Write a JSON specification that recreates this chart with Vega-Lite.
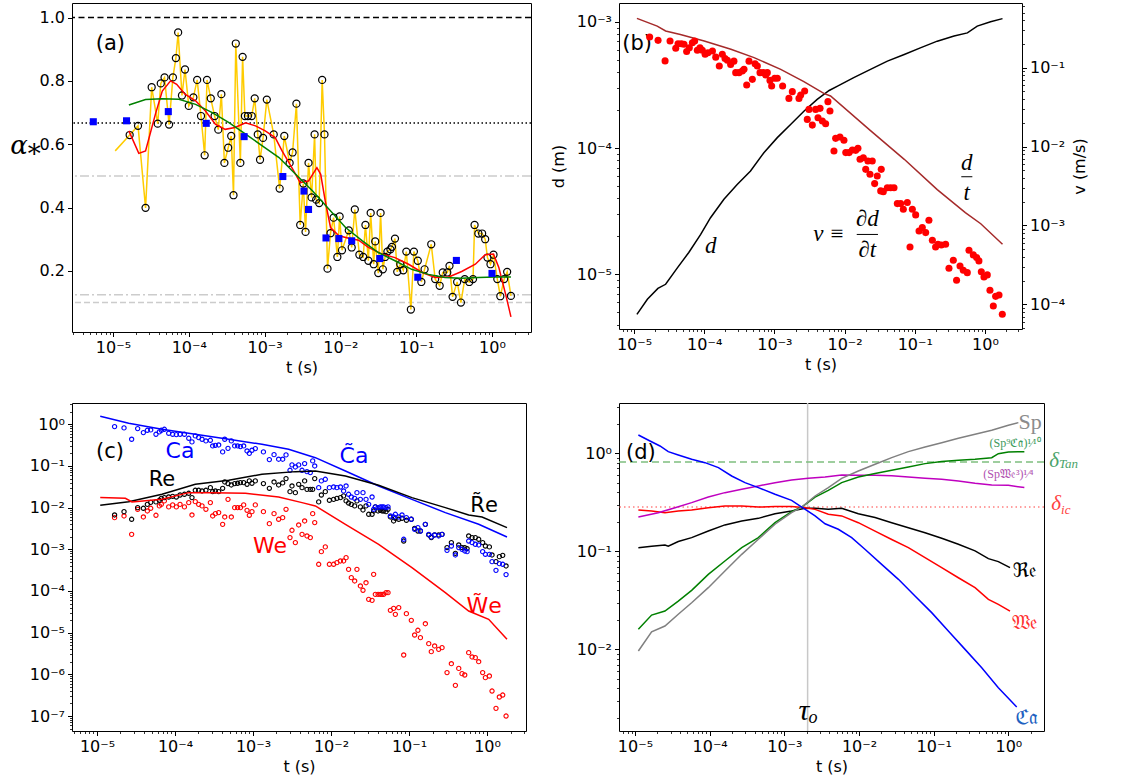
{
"$schema":"https://vega.github.io/schema/vega-lite/v6.json",
"padding":{"left":9,"top":2,"right":5,"bottom":5},
"columns":2,
"align":"each",
"bounds":"flush",
"spacing":{"row":71,"column":88},
"config":{
 "font":"DejaVu Sans",
 "view":{"stroke":"black","strokeWidth":1},
 "axis":{"domain":false,"grid":false,"ticks":true,"tickColor":"black","tickSize":4.5,"tickWidth":1,"labelFont":"DejaVu Sans","labelFontSize":16,"labelColor":"black","labelPadding":3,"labelFlush":false,"labelOverlap":false,"titleFont":"DejaVu Sans","titleFontSize":16,"titleFontWeight":"normal","titleColor":"black"}
},
"datasets":{
"a_pts":[{"t":1.07e-5,"val":0.579,"c":0},{"t":1.66e-5,"val":0.629,"c":1},{"t":2.14e-5,"val":0.658,"c":1},{"t":2.69e-5,"val":0.399,"c":1},{"t":3.24e-5,"val":0.780,"c":1},{"t":3.89e-5,"val":0.665,"c":1},{"t":4.27e-5,"val":0.792,"c":1},{"t":4.79e-5,"val":0.811,"c":1},{"t":5.50e-5,"val":0.662,"c":1},{"t":6.17e-5,"val":0.811,"c":1},{"t":6.76e-5,"val":0.872,"c":1},{"t":7.24e-5,"val":0.953,"c":1},{"t":8.13e-5,"val":0.754,"c":1},{"t":8.91e-5,"val":0.836,"c":1},{"t":1.00e-4,"val":0.721,"c":1},{"t":1.15e-4,"val":0.748,"c":1},{"t":1.29e-4,"val":0.803,"c":1},{"t":1.45e-4,"val":0.689,"c":1},{"t":1.62e-4,"val":0.565,"c":1},{"t":1.74e-4,"val":0.803,"c":1},{"t":1.95e-4,"val":0.745,"c":1},{"t":2.19e-4,"val":0.689,"c":1},{"t":2.45e-4,"val":0.646,"c":1},{"t":2.69e-4,"val":0.758,"c":1},{"t":2.95e-4,"val":0.541,"c":1},{"t":3.31e-4,"val":0.589,"c":1},{"t":3.63e-4,"val":0.626,"c":1},{"t":3.89e-4,"val":0.439,"c":1},{"t":4.17e-4,"val":0.918,"c":1},{"t":4.79e-4,"val":0.541,"c":1},{"t":5.13e-4,"val":0.876,"c":1},{"t":5.50e-4,"val":0.689,"c":1},{"t":6.03e-4,"val":0.689,"c":1},{"t":6.76e-4,"val":0.689,"c":1},{"t":7.41e-4,"val":0.745,"c":1},{"t":8.13e-4,"val":0.631,"c":1},{"t":8.71e-4,"val":0.551,"c":1},{"t":9.55e-4,"val":0.620,"c":1},{"t":1.07e-3,"val":0.741,"c":1},{"t":1.32e-3,"val":0.631,"c":1},{"t":1.58e-3,"val":0.460,"c":1},{"t":1.82e-3,"val":0.626,"c":1},{"t":2.14e-3,"val":0.541,"c":1},{"t":2.34e-3,"val":0.574,"c":1},{"t":2.63e-3,"val":0.728,"c":1},{"t":2.95e-3,"val":0.345,"c":1},{"t":3.24e-3,"val":0.476,"c":1},{"t":3.47e-3,"val":0.323,"c":1},{"t":3.80e-3,"val":0.541,"c":1},{"t":4.17e-3,"val":0.432,"c":1},{"t":4.57e-3,"val":0.631,"c":1},{"t":4.79e-3,"val":0.425,"c":1},{"t":5.25e-3,"val":0.414,"c":1},{"t":5.75e-3,"val":0.803,"c":1},{"t":6.17e-3,"val":0.631,"c":1},{"t":6.76e-3,"val":0.207,"c":1},{"t":7.41e-3,"val":0.319,"c":1},{"t":8.13e-3,"val":0.368,"c":1},{"t":9.12e-3,"val":0.244,"c":1},{"t":9.77e-3,"val":0.372,"c":1},{"t":1.05e-2,"val":0.265,"c":1},{"t":1.29e-2,"val":0.328,"c":1},{"t":1.41e-2,"val":0.274,"c":1},{"t":1.55e-2,"val":0.394,"c":1},{"t":1.78e-2,"val":0.251,"c":1},{"t":2.00e-2,"val":0.244,"c":1},{"t":2.14e-2,"val":0.345,"c":1},{"t":2.34e-2,"val":0.232,"c":1},{"t":2.51e-2,"val":0.383,"c":1},{"t":2.75e-2,"val":0.221,"c":1},{"t":2.88e-2,"val":0.293,"c":1},{"t":3.16e-2,"val":0.193,"c":1},{"t":3.39e-2,"val":0.383,"c":1},{"t":3.63e-2,"val":0.205,"c":1},{"t":3.89e-2,"val":0.244,"c":1},{"t":4.17e-2,"val":0.261,"c":1},{"t":4.57e-2,"val":0.268,"c":1},{"t":4.79e-2,"val":0.276,"c":1},{"t":5.25e-2,"val":0.302,"c":1},{"t":5.62e-2,"val":0.197,"c":1},{"t":6.17e-2,"val":0.221,"c":1},{"t":6.76e-2,"val":0.202,"c":1},{"t":7.41e-2,"val":0.261,"c":1},{"t":8.51e-2,"val":0.078,"c":1},{"t":9.33e-2,"val":0.261,"c":1},{"t":0.105,"val":0.232,"c":1},{"t":0.117,"val":0.165,"c":1},{"t":0.129,"val":0.205,"c":1},{"t":0.158,"val":0.284,"c":1},{"t":0.178,"val":0.174,"c":1},{"t":0.204,"val":0.153,"c":1},{"t":0.224,"val":0.195,"c":1},{"t":0.257,"val":0.195,"c":1},{"t":0.275,"val":0.216,"c":1},{"t":0.302,"val":0.118,"c":1},{"t":0.347,"val":0.165,"c":1},{"t":0.389,"val":0.100,"c":1},{"t":0.437,"val":0.174,"c":1},{"t":0.501,"val":0.165,"c":1},{"t":0.562,"val":0.174,"c":1},{"t":0.589,"val":0.345,"c":1},{"t":0.661,"val":0.318,"c":1},{"t":0.741,"val":0.318,"c":1},{"t":0.813,"val":0.300,"c":1},{"t":0.871,"val":0.242,"c":1},{"t":0.955,"val":0.221,"c":1},{"t":1.047,"val":0.251,"c":1},{"t":1.175,"val":0.174,"c":1},{"t":1.288,"val":0.120,"c":1},{"t":1.445,"val":0.174,"c":1},{"t":1.585,"val":0.197,"c":1},{"t":1.778,"val":0.121,"c":1}],
"a_fit":[{"s":"red","t":1.62e-5,"val":0.642},{"s":"red","t":2.19e-5,"val":0.571},{"s":"red","t":2.69e-5,"val":0.579},{"s":"red","t":3.63e-5,"val":0.695},{"s":"red","t":4.47e-5,"val":0.768},{"s":"red","t":5.75e-5,"val":0.800},{"s":"red","t":6.92e-5,"val":0.789},{"s":"red","t":8.91e-5,"val":0.758},{"s":"red","t":1.23e-4,"val":0.737},{"s":"red","t":1.66e-4,"val":0.705},{"s":"red","t":2.24e-4,"val":0.663},{"s":"red","t":3.02e-4,"val":0.647},{"s":"red","t":4.07e-4,"val":0.653},{"s":"red","t":5.62e-4,"val":0.668},{"s":"red","t":7.59e-4,"val":0.658},{"s":"red","t":1.02e-3,"val":0.642},{"s":"red","t":1.38e-3,"val":0.621},{"s":"red","t":1.70e-3,"val":0.579},{"s":"red","t":2.29e-3,"val":0.526},{"s":"red","t":2.95e-3,"val":0.479},{"s":"red","t":3.80e-3,"val":0.484},{"s":"red","t":4.90e-3,"val":0.526},{"s":"red","t":5.50e-3,"val":0.505},{"s":"red","t":6.31e-3,"val":0.421},{"s":"red","t":7.41e-3,"val":0.337},{"s":"red","t":9.55e-3,"val":0.311},{"s":"red","t":1.29e-2,"val":0.303},{"s":"red","t":1.74e-2,"val":0.297},{"s":"red","t":2.34e-2,"val":0.274},{"s":"red","t":3.55e-2,"val":0.253},{"s":"red","t":5.25e-2,"val":0.242},{"s":"red","t":7.94e-2,"val":0.221},{"s":"red","t":0.120,"val":0.195},{"s":"red","t":0.178,"val":0.179},{"s":"red","t":0.269,"val":0.181},{"s":"red","t":0.398,"val":0.198},{"s":"red","t":0.603,"val":0.221},{"s":"red","t":0.813,"val":0.251},{"s":"red","t":1.047,"val":0.253},{"s":"red","t":1.230,"val":0.211},{"s":"red","t":1.514,"val":0.126},{"s":"red","t":1.778,"val":0.055},
{"s":"green","t":1.62e-5,"val":0.724},{"s":"green","t":2.69e-5,"val":0.741},{"s":"green","t":4.47e-5,"val":0.744},{"s":"green","t":7.41e-5,"val":0.742},{"s":"green","t":1.23e-4,"val":0.726},{"s":"green","t":2.04e-4,"val":0.700},{"s":"green","t":3.39e-4,"val":0.668},{"s":"green","t":5.62e-4,"val":0.632},{"s":"green","t":9.33e-4,"val":0.595},{"s":"green","t":1.55e-3,"val":0.558},{"s":"green","t":2.57e-3,"val":0.505},{"s":"green","t":4.27e-3,"val":0.453},{"s":"green","t":7.08e-3,"val":0.395},{"s":"green","t":1.17e-2,"val":0.337},{"s":"green","t":1.95e-2,"val":0.295},{"s":"green","t":3.16e-2,"val":0.258},{"s":"green","t":5.25e-2,"val":0.232},{"s":"green","t":8.71e-2,"val":0.205},{"s":"green","t":0.145,"val":0.189},{"s":"green","t":0.240,"val":0.179},{"s":"green","t":0.398,"val":0.177},{"s":"green","t":0.661,"val":0.179},{"s":"green","t":1.096,"val":0.181},{"s":"green","t":1.778,"val":0.181}],
"a_sq":[{"t":5.50e-6,"val":0.671},{"t":1.51e-5,"val":0.674},{"t":5.37e-5,"val":0.703},{"t":1.70e-4,"val":0.666},{"t":5.37e-4,"val":0.624},{"t":1.74e-3,"val":0.498},{"t":3.31e-3,"val":0.452},{"t":3.80e-3,"val":0.394},{"t":6.46e-3,"val":0.304},{"t":9.55e-3,"val":0.302},{"t":1.41e-2,"val":0.295},{"t":3.31e-2,"val":0.239},{"t":0.105,"val":0.180},{"t":0.339,"val":0.233},{"t":1.0,"val":0.192}],
"b_d":[{"t":1.10e-5,"d":4.82e-6},{"t":1.55e-5,"d":6.34e-6},{"t":2.19e-5,"d":7.74e-6},{"t":2.82e-5,"d":8.34e-6},{"t":4.17e-5,"d":1.13e-5},{"t":6.03e-5,"d":1.49e-5},{"t":8.91e-5,"d":2.07e-5},{"t":1.23e-4,"d":2.81e-5},{"t":1.91e-4,"d":3.93e-5},{"t":2.95e-4,"d":5.15e-5},{"t":4.57e-4,"d":6.58e-5},{"t":7.08e-4,"d":9.18e-5},{"t":1.10e-3,"d":1.21e-4},{"t":1.70e-3,"d":1.54e-4},{"t":2.63e-3,"d":1.96e-4},{"t":4.07e-3,"d":2.43e-4},{"t":6.03e-3,"d":2.86e-4},{"t":7.94e-3,"d":3.10e-4},{"t":1.35e-2,"d":3.61e-4},{"t":2.34e-2,"d":4.20e-4},{"t":4.07e-2,"d":4.89e-4},{"t":7.08e-2,"d":5.51e-4},{"t":0.120,"d":6.22e-4},{"t":0.209,"d":7.03e-4},{"t":0.363,"d":7.71e-4},{"t":0.562,"d":8.18e-4},{"t":0.776,"d":9.25e-4},{"t":1.202,"d":1.0e-3},{"t":1.778,"d":1.06e-3}],
"b_dt":[{"t":1.10e-5,"v":0.422},{"t":2.14e-5,"v":0.337},{"t":2.82e-5,"v":0.292},{"t":4.57e-5,"v":0.264},{"t":1.0e-4,"v":0.218},{"t":2.40e-4,"v":0.171},{"t":5.13e-4,"v":0.134},{"t":1.23e-3,"v":0.0953},{"t":2.63e-3,"v":0.0665},{"t":5.13e-3,"v":0.0468},{"t":6.31e-3,"v":0.0438},{"t":2.34e-2,"v":0.0159},{"t":7.08e-2,"v":0.00689},{"t":0.209,"v":0.00284},{"t":0.525,"v":0.00145},{"t":0.871,"v":0.00105},{"t":1.778,"v":0.000577}],
"b_v":[{"t":1.67e-5,"v":0.245},{"t":2.20e-5,"v":0.222},{"t":2.77e-5,"v":0.122},{"t":3.26e-5,"v":0.218},{"t":3.93e-5,"v":0.176},{"t":4.24e-5,"v":0.201},{"t":4.72e-5,"v":0.201},{"t":5.15e-5,"v":0.198},{"t":5.62e-5,"v":0.160},{"t":6.14e-5,"v":0.179},{"t":6.78e-5,"v":0.207},{"t":7.31e-5,"v":0.218},{"t":7.98e-5,"v":0.166},{"t":8.71e-5,"v":0.179},{"t":9.40e-5,"v":0.166},{"t":1.03e-4,"v":0.148},{"t":1.13e-4,"v":0.155},{"t":1.31e-4,"v":0.163},{"t":1.46e-4,"v":0.136},{"t":1.64e-4,"v":0.105},{"t":1.81e-4,"v":0.148},{"t":1.98e-4,"v":0.131},{"t":2.14e-4,"v":0.124},{"t":2.38e-4,"v":0.110},{"t":2.65e-4,"v":0.121},{"t":2.81e-4,"v":0.0865},{"t":3.13e-4,"v":0.0865},{"t":3.49e-4,"v":0.0908},{"t":3.69e-4,"v":0.0953},{"t":4.03e-4,"v":0.0603},{"t":4.35e-4,"v":0.121},{"t":4.85e-4,"v":0.0711},{"t":5.30e-4,"v":0.112},{"t":5.71e-4,"v":0.105},{"t":6.24e-4,"v":0.0865},{"t":6.95e-4,"v":0.0865},{"t":7.52e-4,"v":0.0807},{"t":7.93e-4,"v":0.0865},{"t":8.65e-4,"v":0.0690},{"t":9.14e-4,"v":0.0586},{"t":1.01e-3,"v":0.0733},{"t":1.10e-3,"v":0.0733},{"t":1.31e-3,"v":0.0586},{"t":1.61e-3,"v":0.0408},{"t":1.80e-3,"v":0.0497},{"t":2.24e-3,"v":0.0408},{"t":2.37e-3,"v":0.0451},{"t":2.70e-3,"v":0.0506},{"t":2.94e-3,"v":0.0221},{"t":3.11e-3,"v":0.0296},{"t":3.47e-3,"v":0.0187},{"t":3.87e-3,"v":0.0296},{"t":4.18e-3,"v":0.0232},{"t":4.47e-3,"v":0.0305},{"t":4.82e-3,"v":0.0211},{"t":5.37e-3,"v":0.0195},{"t":5.79e-3,"v":0.0371},{"t":6.19e-3,"v":0.0282},{"t":7.06e-3,"v":0.00879},{"t":7.46e-3,"v":0.0127},{"t":8.59e-3,"v":0.0132},{"t":9.79e-3,"v":0.0120},{"t":1.04e-2,"v":0.00838},{"t":1.16e-2,"v":0.00838},{"t":1.29e-2,"v":0.00904},{"t":1.44e-2,"v":0.00895},{"t":1.55e-2,"v":0.00951},{"t":1.66e-2,"v":0.00689},{"t":1.85e-2,"v":0.00723},{"t":2.00e-2,"v":0.00514},{"t":2.15e-2,"v":0.00656},{"t":2.30e-2,"v":0.00445},{"t":2.48e-2,"v":0.00656},{"t":2.68e-2,"v":0.00339},{"t":2.92e-2,"v":0.00424},{"t":3.27e-2,"v":0.00274},{"t":3.33e-2,"v":0.00514},{"t":3.56e-2,"v":0.00268},{"t":4.06e-2,"v":0.00301},{"t":4.53e-2,"v":0.00301},{"t":5.06e-2,"v":0.00301},{"t":5.64e-2,"v":0.00189},{"t":6.30e-2,"v":0.00189},{"t":6.87e-2,"v":0.00160},{"t":7.83e-2,"v":0.00195},{"t":8.55e-2,"v":0.000533},{"t":9.23e-2,"v":0.00160},{"t":0.103,"v":0.00136},{"t":0.115,"v":0.000851},{"t":0.128,"v":0.000938},{"t":0.143,"v":0.000811},{"t":0.159,"v":0.00116},{"t":0.178,"v":0.000649},{"t":0.198,"v":0.000533},{"t":0.214,"v":0.000577},{"t":0.239,"v":0.000565},{"t":0.275,"v":0.000577},{"t":0.307,"v":0.000286},{"t":0.354,"v":0.000361},{"t":0.394,"v":0.000202},{"t":0.441,"v":0.000306},{"t":0.491,"v":0.000270},{"t":0.560,"v":0.000252},{"t":0.592,"v":0.000484},{"t":0.682,"v":0.000423},{"t":0.760,"v":0.000391},{"t":0.820,"v":0.000355},{"t":0.887,"v":0.000259},{"t":0.968,"v":0.000222},{"t":1.079,"v":0.000236},{"t":1.178,"v":0.000151},{"t":1.315,"v":0.0000953},{"t":1.419,"v":0.000126},{"t":1.585,"v":0.000131},{"t":1.766,"v":0.0000748}],
"c_pts":[{"t":1.68e-5,"Ca":0.879,"Re":0.00667,"We":0.00575},{"t":2.22e-5,"Ca":0.817,"Re":0.00802,"We":0.00631},{"t":2.78e-5,"Ca":0.437,"Re":0.00525,"We":0.00229},{"t":3.32e-5,"Ca":0.787,"Re":0.0100,"We":0.00912},{"t":3.93e-5,"Ca":0.631,"Re":0.00964,"We":0.00597},{"t":4.42e-5,"Ca":0.718,"Re":0.0120,"We":0.00832},{"t":4.88e-5,"Ca":0.731,"Re":0.0134,"We":0.00964},{"t":5.70e-5,"Ca":0.575,"Re":0.0137,"We":0.00655},{"t":6.30e-5,"Ca":0.655,"Re":0.0150,"We":0.0110},{"t":6.68e-5,"Ca":0.718,"Re":0.0167,"We":0.0120},{"t":7.30e-5,"Ca":0.759,"Re":0.0174,"We":0.0145},{"t":8.30e-5,"Ca":0.608,"Re":0.0180,"We":0.0104},{"t":9.33e-5,"Ca":0.575,"Re":0.0187,"We":0.0116},{"t":1.04e-4,"Ca":0.565,"Re":0.0180,"We":0.0104},{"t":1.16e-4,"Ca":0.575,"Re":0.0201,"We":0.0120},{"t":1.32e-4,"Ca":0.575,"Re":0.0209,"We":0.0104},{"t":1.50e-4,"Ca":0.461,"Re":0.0221,"We":0.0132},{"t":1.65e-4,"Ca":0.377,"Re":0.0174,"We":0.00667},{"t":1.82e-4,"Ca":0.525,"Re":0.0261,"We":0.0139},{"t":2.01e-4,"Ca":0.479,"Re":0.0261,"We":0.0120},{"t":2.22e-4,"Ca":0.437,"Re":0.0251,"We":0.0110},{"t":2.49e-4,"Ca":0.398,"Re":0.0261,"We":0.00912},{"t":2.84e-4,"Ca":0.413,"Re":0.0302,"We":0.0132},{"t":3.04e-4,"Ca":0.302,"Re":0.0242,"We":0.00631},{"t":3.29e-4,"Ca":0.313,"Re":0.0251,"We":0.00718},{"t":3.63e-4,"Ca":0.319,"Re":0.0242,"We":0.00759},{"t":4.08e-4,"Ca":0.217,"Re":0.0291,"We":0.00398},{"t":4.34e-4,"Ca":0.437,"Re":0.0413,"We":0.00597},{"t":4.78e-4,"Ca":0.265,"Re":0.0377,"We":0.0158},{"t":5.27e-4,"Ca":0.398,"Re":0.0350,"We":0.00597},{"t":5.82e-4,"Ca":0.302,"Re":0.0377,"We":0.0100},{"t":6.35e-4,"Ca":0.302,"Re":0.0384,"We":0.0100},{"t":6.89e-4,"Ca":0.291,"Re":0.0398,"We":0.0100},{"t":7.59e-4,"Ca":0.302,"Re":0.0398,"We":0.0116},{"t":8.38e-4,"Ca":0.229,"Re":0.0363,"We":0.00863},{"t":8.97e-4,"Ca":0.201,"Re":0.0437,"We":0.00655},{"t":9.70e-4,"Ca":0.238,"Re":0.0384,"We":0.00802},{"t":1.07e-3,"Ca":0.261,"Re":0.0437,"We":0.0116},{"t":1.36e-3,"Ca":0.217,"Re":0.0377,"We":0.00802},{"t":1.62e-3,"Ca":0.142,"Re":0.0291,"We":0.00413},{"t":1.86e-3,"Ca":0.187,"Re":0.0413,"We":0.00718},{"t":2.13e-3,"Ca":0.145,"Re":0.0350,"We":0.00525},{"t":2.40e-3,"Ca":0.145,"Re":0.0391,"We":0.00575},{"t":2.65e-3,"Ca":0.184,"Re":0.0497,"We":0.00912},{"t":2.98e-3,"Ca":0.0787,"Re":0.0242,"We":0.00191},{"t":3.16e-3,"Ca":0.106,"Re":0.0331,"We":0.00286},{"t":3.49e-3,"Ca":0.0946,"Re":0.0229,"We":0.00145},{"t":3.85e-3,"Ca":0.106,"Re":0.0363,"We":0.00384},{"t":4.25e-3,"Ca":0.0787,"Re":0.0302,"We":0.00229},{"t":4.59e-3,"Ca":0.114,"Re":0.0437,"We":0.00479},{"t":4.92e-3,"Ca":0.0731,"Re":0.0275,"We":0.00209},{"t":5.43e-3,"Ca":0.0692,"Re":0.0275,"We":0.00191},{"t":5.82e-3,"Ca":0.132,"Re":0.0275,"We":0.00718},{"t":6.18e-3,"Ca":0.1,"Re":0.0497,"We":0.00437},{"t":6.95e-3,"Ca":0.0302,"Re":0.0137,"We":0.000437},{"t":7.52e-3,"Ca":0.0437,"Re":0.0201,"We":0.000879},{"t":8.45e-3,"Ca":0.0479,"Re":0.0242,"We":0.00114},{"t":9.53e-3,"Ca":0.0302,"Re":0.0150,"We":0.000437},{"t":1.08e-2,"Ca":0.0313,"Re":0.0158,"We":0.000437},{"t":1.19e-2,"Ca":0.0302,"Re":0.0167,"We":0.000479},{"t":1.32e-2,"Ca":0.0313,"Re":0.0174,"We":0.000525},{"t":1.45e-2,"Ca":0.0251,"Re":0.0191,"We":0.000525},{"t":1.56e-2,"Ca":0.0331,"Re":0.0145,"We":0.000631},{"t":1.68e-2,"Ca":0.0209,"Re":0.0129,"We":0.000331},{"t":1.82e-2,"Ca":0.0180,"Re":0.0120,"We":0.000209},{"t":2.01e-2,"Ca":0.0167,"Re":0.0110,"We":0.000174},{"t":2.15e-2,"Ca":0.0229,"Re":0.0145,"We":0.000331},{"t":2.38e-2,"Ca":0.0158,"Re":0.0104,"We":0.000132},{"t":2.57e-2,"Ca":0.0229,"Re":0.00879,"We":0.000104},{"t":2.81e-2,"Ca":0.0158,"Re":0.0110,"We":0.000158},{"t":3.04e-2,"Ca":0.0120,"Re":0.00692,"We":6.31e-5},{"t":3.36e-2,"Ca":0.0180,"Re":0.00692,"We":5.97e-5},{"t":3.52e-2,"Ca":0.00912,"Re":0.00832,"We":0.000251},{"t":3.70e-2,"Ca":0.0104,"Re":0.0104,"We":8.32e-5},{"t":4.01e-2,"Ca":0.0100,"Re":0.00832,"We":8.32e-5},{"t":4.29e-2,"Ca":0.0104,"Re":0.00863,"We":8.32e-5},{"t":4.51e-2,"Ca":0.0104,"Re":0.00832,"We":8.32e-5},{"t":4.73e-2,"Ca":0.0104,"Re":0.00832,"We":8.32e-5},{"t":5.07e-2,"Ca":0.0100,"Re":0.00802,"We":9.12e-5},{"t":5.38e-2,"Ca":0.0104,"Re":0.00912,"We":9.12e-5},{"t":5.77e-2,"Ca":0.00631,"Re":0.00597,"We":3.44e-5},{"t":6.35e-2,"Ca":0.00597,"Re":0.00479,"We":3.84e-5},{"t":6.68e-2,"Ca":0.00692,"Re":0.00555,"We":2.75e-5},{"t":7.38e-2,"Ca":0.00597,"Re":0.00525,"We":3.98e-5},{"t":8.13e-2,"Ca":0.00667,"Re":0.00555,"We":null},{"t":8.55e-2,"Ca":0.00174,"Re":0.00158,"We":2.91e-6},{"t":9.25e-2,"Ca":0.00575,"Re":0.00497,"We":2.86e-5},{"t":0.107,"Ca":0.00525,"Re":0.00525,"We":1.98e-5},{"t":0.118,"Ca":0.00302,"Re":0.00319,"We":8.79e-6},{"t":0.130,"Ca":0.00331,"Re":0.00275,"We":1.14e-5},{"t":0.140,"Ca":0.00275,"Re":0.00275,"We":7.59e-6},{"t":0.162,"Ca":0.00398,"Re":0.00398,"We":1.64e-5},{"t":0.179,"Ca":0.00229,"Re":0.00221,"We":5.45e-6},{"t":0.193,"Ca":0.00198,"Re":0.00191,"We":3.50e-6},{"t":0.213,"Ca":0.00221,"Re":0.00221,"We":4.79e-6},{"t":0.240,"Ca":0.00209,"Re":0.00221,"We":3.98e-6},{"t":0.265,"Ca":0.00229,"Re":0.00229,"We":4.37e-6},{"t":0.307,"Ca":0.000946,"Re":0.00110,"We":1.10e-6},{"t":0.349,"Ca":0.00120,"Re":0.00145,"We":1.80e-6},{"t":0.393,"Ca":0.000731,"Re":0.000802,"We":5.45e-7},{"t":0.434,"Ca":0.00110,"Re":0.00127,"We":1.39e-6},{"t":0.478,"Ca":0.00100,"Re":0.00110,"We":1.04e-6},{"t":0.518,"Ca":0.000912,"Re":0.00110,"We":9.64e-7},{"t":0.555,"Ca":0.000879,"Re":0.00104,"We":null},{"t":0.582,"Ca":0.00158,"Re":0.00209,"We":3.31e-6},{"t":0.643,"Ca":0.00145,"Re":0.00191,"We":2.61e-6},{"t":0.708,"Ca":0.00132,"Re":0.00191,"We":2.51e-6},{"t":0.782,"Ca":0.00127,"Re":0.00174,"We":2.01e-6},{"t":0.879,"Ca":0.000879,"Re":0.00145,"We":1.10e-6},{"t":0.953,"Ca":0.000759,"Re":0.00120,"We":8.32e-7},{"t":1.072,"Ca":0.000759,"Re":0.00114,"We":9.12e-7},{"t":1.159,"Ca":0.000506,"Re":0.000731,"We":3.98e-7},{"t":1.303,"Ca":0.000313,"Re":0.000506,"We":1.53e-7},{"t":1.439,"Ca":0.000453,"Re":0.000667,"We":2.86e-7},{"t":1.589,"Ca":0.000437,"Re":0.000718,"We":3.19e-7},{"t":1.754,"Ca":0.000247,"Re":0.000398,"We":1.00e-7}],
"c_lines":[{"s":"Ca","t":1.10e-5,"val":1.556},{"s":"Ca","t":2.55e-5,"val":1.057},{"s":"Ca","t":6.81e-5,"val":0.759},{"s":"Ca","t":1.82e-4,"val":0.575},{"s":"Ca","t":4.88e-4,"val":0.437},{"s":"Ca","t":1.30e-3,"val":0.331},{"s":"Ca","t":2.86e-3,"val":0.251},{"s":"Ca","t":6.30e-3,"val":0.158},{"s":"Ca","t":1.53e-2,"val":0.0759},{"s":"Ca","t":4.08e-2,"val":0.0331},{"s":"Ca","t":0.109,"val":0.0158},{"s":"Ca","t":0.292,"val":0.00759},{"s":"Ca","t":0.782,"val":0.00398},{"s":"Ca","t":1.803,"val":0.00198},
{"s":"Re","t":1.10e-5,"val":0.0114},{"s":"Re","t":2.55e-5,"val":0.0139},{"s":"Re","t":6.81e-5,"val":0.0209},{"s":"Re","t":1.82e-4,"val":0.0363},{"s":"Re","t":4.88e-4,"val":0.0453},{"s":"Re","t":1.30e-3,"val":0.0631},{"s":"Re","t":3.49e-3,"val":0.0731},{"s":"Re","t":6.30e-3,"val":0.0759},{"s":"Re","t":1.53e-2,"val":0.0575},{"s":"Re","t":4.08e-2,"val":0.0344},{"s":"Re","t":0.109,"val":0.0174},{"s":"Re","t":0.292,"val":0.0100},{"s":"Re","t":0.582,"val":0.00667},{"s":"Re","t":0.863,"val":0.00597},{"s":"Re","t":1.803,"val":0.00331},
{"s":"We","t":1.10e-5,"val":0.0174},{"s":"We","t":2.31e-5,"val":0.0167},{"s":"We","t":2.81e-5,"val":0.0137},{"s":"We","t":6.81e-5,"val":0.0158},{"s":"We","t":1.50e-4,"val":0.0229},{"s":"We","t":2.98e-4,"val":0.0229},{"s":"We","t":7.98e-4,"val":0.0221},{"s":"We","t":2.13e-3,"val":0.0180},{"s":"We","t":4.25e-3,"val":0.0132},{"s":"We","t":6.30e-3,"val":0.0110},{"s":"We","t":1.53e-2,"val":0.00398},{"s":"We","t":4.08e-2,"val":0.00132},{"s":"We","t":0.109,"val":0.000363},{"s":"We","t":0.292,"val":0.0000912},{"s":"We","t":0.582,"val":0.0000331},{"s":"We","t":1.05,"val":0.0000209},{"s":"We","t":1.803,"val":0.00000692}],
"d_lines":[{"s":"Ca","t":1.11e-5,"val":1.538},{"s":"Ca","t":1.59e-5,"val":1.336},{"s":"Ca","t":2.16e-5,"val":1.188},{"s":"Ca","t":2.79e-5,"val":1.040},{"s":"Ca","t":3.80e-5,"val":0.962},{"s":"Ca","t":5.74e-5,"val":0.869},{"s":"Ca","t":8.66e-5,"val":0.803},{"s":"Ca","t":1.31e-4,"val":0.714},{"s":"Ca","t":1.97e-4,"val":0.587},{"s":"Ca","t":2.97e-4,"val":0.502},{"s":"Ca","t":4.49e-4,"val":0.447},{"s":"Ca","t":7.50e-4,"val":0.382},{"s":"Ca","t":1.25e-3,"val":0.331},{"s":"Ca","t":1.71e-3,"val":0.283},{"s":"Ca","t":2.58e-3,"val":0.230},{"s":"Ca","t":3.51e-3,"val":0.191},{"s":"Ca","t":5.28e-3,"val":0.168},{"s":"Ca","t":7.98e-3,"val":0.138},{"s":"Ca","t":1.20e-2,"val":0.105},{"s":"Ca","t":2.01e-2,"val":0.0736},{"s":"Ca","t":3.37e-2,"val":0.0518},{"s":"Ca","t":5.62e-2,"val":0.0350},{"s":"Ca","t":9.40e-2,"val":0.0237},{"s":"Ca","t":0.157,"val":0.0154},{"s":"Ca","t":0.263,"val":0.0100},{"s":"Ca","t":0.440,"val":0.00650},{"s":"Ca","t":0.734,"val":0.00406},{"s":"Ca","t":1.294,"val":0.00258},
{"s":"Sp","t":1.11e-5,"val":0.00962},{"s":"Sp","t":1.67e-5,"val":0.0151},{"s":"Sp","t":2.52e-5,"val":0.0173},{"s":"Sp","t":3.80e-5,"val":0.0228},{"s":"Sp","t":5.74e-5,"val":0.0299},{"s":"Sp","t":9.59e-5,"val":0.0426},{"s":"Sp","t":1.60e-4,"val":0.0630},{"s":"Sp","t":2.69e-4,"val":0.0932},{"s":"Sp","t":4.49e-4,"val":0.133},{"s":"Sp","t":7.50e-4,"val":0.189},{"s":"Sp","t":1.25e-3,"val":0.248},{"s":"Sp","t":1.71e-3,"val":0.283},{"s":"Sp","t":2.58e-3,"val":0.367},{"s":"Sp","t":3.88e-3,"val":0.447},{"s":"Sp","t":5.86e-3,"val":0.556},{"s":"Sp","t":9.79e-3,"val":0.660},{"s":"Sp","t":1.64e-2,"val":0.773},{"s":"Sp","t":2.74e-2,"val":0.903},{"s":"Sp","t":4.58e-2,"val":1.040},{"s":"Sp","t":7.66e-2,"val":1.161},{"s":"Sp","t":0.128,"val":1.284},{"s":"Sp","t":0.214,"val":1.422},{"s":"Sp","t":0.358,"val":1.563},{"s":"Sp","t":0.598,"val":1.718},{"s":"Sp","t":1.0,"val":1.931},{"s":"Sp","t":1.361,"val":2.055},
{"s":"Spca","t":1.11e-5,"val":0.0160},{"s":"Spca","t":1.67e-5,"val":0.0224},{"s":"Spca","t":2.52e-5,"val":0.0246},{"s":"Spca","t":3.80e-5,"val":0.0311},{"s":"Spca","t":5.74e-5,"val":0.0400},{"s":"Spca","t":9.59e-5,"val":0.0582},{"s":"Spca","t":1.60e-4,"val":0.0797},{"s":"Spca","t":2.69e-4,"val":0.109},{"s":"Spca","t":4.49e-4,"val":0.138},{"s":"Spca","t":7.50e-4,"val":0.196},{"s":"Spca","t":1.25e-3,"val":0.254},{"s":"Spca","t":1.71e-3,"val":0.283},{"s":"Spca","t":2.58e-3,"val":0.358},{"s":"Spca","t":3.88e-3,"val":0.419},{"s":"Spca","t":5.86e-3,"val":0.502},{"s":"Spca","t":9.79e-3,"val":0.574},{"s":"Spca","t":1.64e-2,"val":0.621},{"s":"Spca","t":2.74e-2,"val":0.671},{"s":"Spca","t":4.58e-2,"val":0.726},{"s":"Spca","t":7.66e-2,"val":0.785},{"s":"Spca","t":0.128,"val":0.823},{"s":"Spca","t":0.214,"val":0.849},{"s":"Spca","t":0.358,"val":0.869},{"s":"Spca","t":0.598,"val":0.903},{"s":"Spca","t":0.734,"val":0.992},{"s":"Spca","t":1.0,"val":1.032},{"s":"Spca","t":1.637,"val":1.040},
{"s":"Spwe","t":1.11e-5,"val":0.224},{"s":"Spwe","t":2.05e-5,"val":0.248},{"s":"Spwe","t":3.44e-5,"val":0.279},{"s":"Spwe","t":5.74e-5,"val":0.314},{"s":"Spwe","t":9.59e-5,"val":0.358},{"s":"Spwe","t":1.60e-4,"val":0.397},{"s":"Spwe","t":2.69e-4,"val":0.430},{"s":"Spwe","t":4.49e-4,"val":0.465},{"s":"Spwe","t":7.50e-4,"val":0.502},{"s":"Spwe","t":1.25e-3,"val":0.535},{"s":"Spwe","t":2.09e-3,"val":0.556},{"s":"Spwe","t":3.51e-3,"val":0.574},{"s":"Spwe","t":5.86e-3,"val":0.601},{"s":"Spwe","t":9.79e-3,"val":0.597},{"s":"Spwe","t":1.64e-2,"val":0.597},{"s":"Spwe","t":2.74e-2,"val":0.592},{"s":"Spwe","t":4.58e-2,"val":0.574},{"s":"Spwe","t":7.66e-2,"val":0.556},{"s":"Spwe","t":0.128,"val":0.543},{"s":"Spwe","t":0.214,"val":0.522},{"s":"Spwe","t":0.358,"val":0.494},{"s":"Spwe","t":0.598,"val":0.475},{"s":"Spwe","t":1.0,"val":0.471},{"s":"Spwe","t":1.637,"val":0.447},
{"s":"We","t":1.11e-5,"val":0.264},{"s":"We","t":1.67e-5,"val":0.258},{"s":"We","t":2.52e-5,"val":0.248},{"s":"We","t":3.80e-5,"val":0.258},{"s":"We","t":5.74e-5,"val":0.264},{"s":"We","t":9.59e-5,"val":0.279},{"s":"We","t":1.60e-4,"val":0.290},{"s":"We","t":2.69e-4,"val":0.290},{"s":"We","t":4.49e-4,"val":0.283},{"s":"We","t":7.50e-4,"val":0.286},{"s":"We","t":1.25e-3,"val":0.286},{"s":"We","t":1.89e-3,"val":0.279},{"s":"We","t":2.58e-3,"val":0.268},{"s":"We","t":3.88e-3,"val":0.239},{"s":"We","t":5.86e-3,"val":0.230},{"s":"We","t":9.79e-3,"val":0.196},{"s":"We","t":1.64e-2,"val":0.161},{"s":"We","t":2.74e-2,"val":0.132},{"s":"We","t":4.58e-2,"val":0.109},{"s":"We","t":7.66e-2,"val":0.0861},{"s":"We","t":0.128,"val":0.0681},{"s":"We","t":0.214,"val":0.0538},{"s":"We","t":0.358,"val":0.0426},{"s":"We","t":0.540,"val":0.0324},{"s":"We","t":0.734,"val":0.0288},{"s":"We","t":1.052,"val":0.0246},
{"s":"Re","t":1.11e-5,"val":0.109},{"s":"Re","t":1.67e-5,"val":0.113},{"s":"Re","t":2.52e-5,"val":0.116},{"s":"Re","t":2.79e-5,"val":0.113},{"s":"Re","t":3.80e-5,"val":0.126},{"s":"Re","t":5.74e-5,"val":0.138},{"s":"Re","t":9.59e-5,"val":0.161},{"s":"Re","t":1.60e-4,"val":0.186},{"s":"Re","t":2.69e-4,"val":0.204},{"s":"Re","t":4.49e-4,"val":0.217},{"s":"Re","t":7.50e-4,"val":0.242},{"s":"Re","t":1.25e-3,"val":0.258},{"s":"Re","t":1.89e-3,"val":0.275},{"s":"Re","t":2.58e-3,"val":0.275},{"s":"Re","t":3.88e-3,"val":0.268},{"s":"Re","t":5.86e-3,"val":0.275},{"s":"Re","t":9.79e-3,"val":0.242},{"s":"Re","t":1.64e-2,"val":0.221},{"s":"Re","t":2.74e-2,"val":0.196},{"s":"Re","t":4.58e-2,"val":0.174},{"s":"Re","t":7.66e-2,"val":0.155},{"s":"Re","t":0.128,"val":0.136},{"s":"Re","t":0.214,"val":0.118},{"s":"Re","t":0.358,"val":0.101},{"s":"Re","t":0.540,"val":0.0842},{"s":"Re","t":0.734,"val":0.0785},{"s":"Re","t":1.052,"val":0.0681}]
},
"concat":[
{
 "width":459,"height":329,
 "encoding":{"y":{"field":"val","type":"quantitative","scale":{"domain":[0.007,1.046],"nice":false,"zero":false},"axis":{"values":[0.2,0.4,0.6,0.8,1.0],"format":".1f","title":"α⁎","titleAngle":0,"titleFont":"DejaVu Serif","titleFontStyle":"italic","titleFontSize":26,"titleAlign":"center","titleBaseline":"middle","titleX":-47,"titleY":142}}},
 "layer":[
  {"data":{"values":[{"val":1.0}]},"mark":{"type":"rule","color":"black","strokeDash":[6,3.5],"strokeWidth":1.5},"encoding":{}},
  {"data":{"values":[{"val":0.6667}]},"mark":{"type":"rule","color":"black","strokeDash":[1.5,2.5],"strokeWidth":1.5},"encoding":{}},
  {"data":{"values":[{"val":0.5}]},"mark":{"type":"rule","color":"#cccccc","strokeDash":[9,3,2,3],"strokeWidth":1.5},"encoding":{}},
  {"data":{"values":[{"val":0.125}]},"mark":{"type":"rule","color":"#cccccc","strokeDash":[9,3,2,3],"strokeWidth":1.5},"encoding":{}},
  {"data":{"values":[{"val":0.1}]},"mark":{"type":"rule","color":"#cccccc","strokeDash":[6,3],"strokeWidth":1.5},"encoding":{}},
  {"data":{"name":"a_pts"},"mark":{"type":"line","color":"#ffcc00","strokeWidth":1.5},
   "encoding":{"x":{"field":"t","type":"quantitative","scale":{"type":"log","domain":[2.88e-6,3.27],"nice":false},"axis":{"orient":"bottom","values":[1e-5,1e-4,0.001,0.01,0.1,1],"labelExpr":"datum.value > 0.5 ? '10⁰' : datum.value > 0.05 ? '10⁻¹' : datum.value > 0.005 ? '10⁻²' : datum.value > 0.0005 ? '10⁻³' : datum.value > 0.00005 ? '10⁻⁴' : datum.value > 0.000005 ? '10⁻⁵' : datum.value > 0.0000005 ? '10⁻⁶' : '10⁻⁷'","title":"t (s)","titlePadding":4}}}},
  {"data":{"name":"a_pts"},"transform":[{"filter":"datum.c == 1"}],"mark":{"type":"point","shape":"circle","size":50,"filled":false,"color":"black","strokeWidth":1.2,"opacity":1},
   "encoding":{"x":{"field":"t","type":"quantitative","scale":{"type":"log","domain":[2.88e-6,3.27],"nice":false},"axis":{"orient":"bottom","values":[3e-6,4e-6,5e-6,6e-6,7e-6,8e-6,9e-6,2e-5,3e-5,4e-5,5e-5,6e-5,7e-5,8e-5,9e-5,2e-4,3e-4,4e-4,5e-4,6e-4,7e-4,8e-4,9e-4,0.002,0.003,0.004,0.005,0.006,0.007,0.008,0.009,0.02,0.03,0.04,0.05,0.06,0.07,0.08,0.09,0.2,0.3,0.4,0.5,0.6,0.7,0.8,0.9,2,3],"labels":false,"title":null,"tickSize":2.5,"tickWidth":0.8}}}},
  {"data":{"name":"a_fit"},"transform":[{"filter":"datum.s == 'red'"}],"mark":{"type":"line","color":"#ff0000","strokeWidth":1.5},
   "encoding":{"x":{"field":"t","type":"quantitative","scale":{"type":"log","domain":[2.88e-6,3.27],"nice":false},"axis":null}}},
  {"data":{"name":"a_fit"},"transform":[{"filter":"datum.s == 'green'"}],"mark":{"type":"line","color":"#008000","strokeWidth":1.5},
   "encoding":{"x":{"field":"t","type":"quantitative","scale":{"type":"log","domain":[2.88e-6,3.27],"nice":false},"axis":null}}},
  {"data":{"name":"a_sq"},"mark":{"type":"point","shape":"square","size":50,"filled":true,"color":"#0000ff","opacity":1},
   "encoding":{"x":{"field":"t","type":"quantitative","scale":{"type":"log","domain":[2.88e-6,3.27],"nice":false},"axis":null}}},
  {"data":{"values":[{"t":9.23e-6,"val":0.916,"label":"(a)"}]},"mark":{"type":"text","fontSize":21,"font":"DejaVu Sans","align":"center","baseline":"middle","color":"black"},
   "encoding":{"x":{"field":"t","type":"quantitative","scale":{"type":"log","domain":[2.88e-6,3.27],"nice":false},"axis":null},"text":{"field":"label"}}}
 ],
 "resolve":{"axis":{"x":"independent"}}
},
{
 "width":403,"height":326,
 "layer":[
  {
   "encoding":{"y":{"field":"d","type":"quantitative","scale":{"type":"log","domain":[3.69e-6,1.41e-3],"nice":false},"axis":null}},
   "layer":[
    {"data":{"name":"b_d"},"mark":{"type":"line","color":"black","strokeWidth":1.5},
     "encoding":{"x":{"field":"t","type":"quantitative","scale":{"type":"log","domain":[6.11e-6,3.37],"nice":false},"axis":{"orient":"bottom","values":[1e-5,1e-4,0.001,0.01,0.1,1],"labelExpr":"datum.value > 0.5 ? '10⁰' : datum.value > 0.05 ? '10⁻¹' : datum.value > 0.005 ? '10⁻²' : datum.value > 0.0005 ? '10⁻³' : datum.value > 0.00005 ? '10⁻⁴' : '10⁻⁵'","title":"t (s)","titlePadding":4}},
     "y":{"field":"d","type":"quantitative","scale":{"type":"log","domain":[3.69e-6,1.41e-3],"nice":false},"axis":{"orient":"left","values":[1e-5,1e-4,0.001],"labelExpr":"datum.value > 0.0005 ? '10⁻³' : datum.value > 0.00005 ? '10⁻⁴' : '10⁻⁵'","title":"d (m)","titleAngle":270,"titleAlign":"center","titleBaseline":"middle","titleX":-61,"titleY":163}}}},
    {"data":{"values":[{"t":1.49e-2,"t2":2.99e-2,"d":2.07e-5},{"t":0.46,"t2":0.661,"d":5.93e-5}]},"mark":{"type":"rule","color":"black","strokeWidth":1},
     "encoding":{"x":{"field":"t","type":"quantitative","scale":{"type":"log","domain":[6.11e-6,3.37],"nice":false},"axis":{"orient":"bottom","values":[1e-5,1e-4,0.001,0.01,0.1,1],"labelExpr":"datum.value > 0.5 ? '10⁰' : datum.value > 0.05 ? '10⁻¹' : datum.value > 0.005 ? '10⁻²' : datum.value > 0.0005 ? '10⁻³' : datum.value > 0.00005 ? '10⁻⁴' : '10⁻⁵'","title":"t (s)","titlePadding":4}},"x2":{"field":"t2"},
     "y":{"field":"d","type":"quantitative","scale":{"type":"log","domain":[3.69e-6,1.41e-3],"nice":false},"axis":{"orient":"left","values":[4e-6,5e-6,6e-6,7e-6,8e-6,9e-6,2e-5,3e-5,4e-5,5e-5,6e-5,7e-5,8e-5,9e-5,2e-4,3e-4,4e-4,5e-4,6e-4,7e-4,8e-4,9e-4],"labels":false,"title":null,"tickSize":2.5,"tickWidth":0.8}}}},
    {"data":{"values":[{"t":1.11e-5,"d":6.62e-4,"label":"(b)"}]},"mark":{"type":"text","fontSize":21,"font":"DejaVu Sans","align":"center","baseline":"middle","color":"black"},
     "encoding":{"x":{"field":"t","type":"quantitative","scale":{"type":"log","domain":[6.11e-6,3.37],"nice":false},"axis":{"orient":"bottom","values":[1e-5,1e-4,0.001,0.01,0.1,1],"labelExpr":"datum.value > 0.5 ? '10⁰' : datum.value > 0.05 ? '10⁻¹' : datum.value > 0.005 ? '10⁻²' : datum.value > 0.0005 ? '10⁻³' : datum.value > 0.00005 ? '10⁻⁴' : '10⁻⁵'","title":"t (s)","titlePadding":4}},"text":{"field":"label"}}},
    {"data":{"values":[{"t":1.24e-4,"d":1.67e-5,"label":"d"},{"t":6.0e-3,"d":2.07e-5,"label":"v ≡"},{"t":2.11e-2,"d":2.72e-5,"label":"∂d"},{"t":2.11e-2,"d":1.56e-5,"label":"∂t"},{"t":0.548,"d":7.6e-5,"label":"d"},{"t":0.548,"d":4.4e-5,"label":"t"}]},"mark":{"type":"text","fontSize":23,"font":"Liberation Serif","fontStyle":"italic","align":"center","baseline":"middle","color":"black"},
     "encoding":{"x":{"field":"t","type":"quantitative","scale":{"type":"log","domain":[6.11e-6,3.37],"nice":false},"axis":{"orient":"bottom","values":[1e-5,1e-4,0.001,0.01,0.1,1],"labelExpr":"datum.value > 0.5 ? '10⁰' : datum.value > 0.05 ? '10⁻¹' : datum.value > 0.005 ? '10⁻²' : datum.value > 0.0005 ? '10⁻³' : datum.value > 0.00005 ? '10⁻⁴' : '10⁻⁵'","title":"t (s)","titlePadding":4}},"text":{"field":"label"}}}
   ],
   "resolve":{"axis":{"y":"independent"}}
  },
  {
   "encoding":{"y":{"field":"v","type":"quantitative","scale":{"type":"log","domain":[4.86e-5,0.661],"nice":false},"axis":null}},
   "layer":[
    {"data":{"name":"b_dt"},"mark":{"type":"line","color":"#a52a2a","strokeWidth":1.5},
     "encoding":{"x":{"field":"t","type":"quantitative","scale":{"type":"log","domain":[6.11e-6,3.37],"nice":false},"axis":{"orient":"bottom","values":[7e-6,8e-6,9e-6,2e-5,3e-5,4e-5,5e-5,6e-5,7e-5,8e-5,9e-5,2e-4,3e-4,4e-4,5e-4,6e-4,7e-4,8e-4,9e-4,0.002,0.003,0.004,0.005,0.006,0.007,0.008,0.009,0.02,0.03,0.04,0.05,0.06,0.07,0.08,0.09,0.2,0.3,0.4,0.5,0.6,0.7,0.8,0.9,2,3],"labels":false,"title":null,"tickSize":2.5,"tickWidth":0.8}},
     "y":{"field":"v","type":"quantitative","scale":{"type":"log","domain":[4.86e-5,0.661],"nice":false},"axis":{"orient":"right","values":[1e-4,0.001,0.01,0.1],"labelExpr":"datum.value > 0.05 ? '10⁻¹' : datum.value > 0.005 ? '10⁻²' : datum.value > 0.0005 ? '10⁻³' : '10⁻⁴'","title":"v (m/s)","titleAngle":270,"titleAlign":"center","titleBaseline":"middle","titleX":57,"titleY":163}}}},
    {"data":{"name":"b_v"},"mark":{"type":"point","shape":"circle","size":50,"filled":true,"color":"#ff0000","opacity":1},
     "encoding":{"x":{"field":"t","type":"quantitative","scale":{"type":"log","domain":[6.11e-6,3.37],"nice":false},"axis":{"orient":"bottom","values":[7e-6,8e-6,9e-6,2e-5,3e-5,4e-5,5e-5,6e-5,7e-5,8e-5,9e-5,2e-4,3e-4,4e-4,5e-4,6e-4,7e-4,8e-4,9e-4,0.002,0.003,0.004,0.005,0.006,0.007,0.008,0.009,0.02,0.03,0.04,0.05,0.06,0.07,0.08,0.09,0.2,0.3,0.4,0.5,0.6,0.7,0.8,0.9,2,3],"labels":false,"title":null,"tickSize":2.5,"tickWidth":0.8}},
     "y":{"field":"v","type":"quantitative","scale":{"type":"log","domain":[4.86e-5,0.661],"nice":false},"axis":{"orient":"right","values":[5e-5,6e-5,7e-5,8e-5,9e-5,2e-4,3e-4,4e-4,5e-4,6e-4,7e-4,8e-4,9e-4,0.002,0.003,0.004,0.005,0.006,0.007,0.008,0.009,0.02,0.03,0.04,0.05,0.06,0.07,0.08,0.09,0.2,0.3,0.4,0.5,0.6],"labels":false,"title":null,"tickSize":2.5,"tickWidth":0.8}}}}
   ],
   "resolve":{"axis":{"y":"independent"}}
  }
 ],
 "resolve":{"scale":{"y":"independent"},"axis":{"x":"independent","y":"independent"}}
},
{
 "width":454,"height":328,
 "encoding":{"y":{"field":"val","type":"quantitative","scale":{"type":"log","domain":[4.37e-8,3.24],"nice":false},"axis":null}},
 "layer":[
  {"data":{"name":"c_pts"},"transform":[{"fold":["We"],"as":["s","val"]}],"mark":{"type":"point","shape":"circle","size":18,"filled":false,"color":"#ff0000","strokeWidth":1.1,"opacity":1},
   "encoding":{"x":{"field":"t","type":"quantitative","scale":{"type":"log","domain":[4.78e-6,3.16],"nice":false},"axis":{"orient":"bottom","values":[1e-5,1e-4,0.001,0.01,0.1,1],"labelExpr":"datum.value > 0.5 ? '10⁰' : datum.value > 0.05 ? '10⁻¹' : datum.value > 0.005 ? '10⁻²' : datum.value > 0.0005 ? '10⁻³' : datum.value > 0.00005 ? '10⁻⁴' : '10⁻⁵'","title":"t (s)","titlePadding":4}},
   "y":{"field":"val","type":"quantitative","scale":{"type":"log","domain":[4.37e-8,3.24],"nice":false},"axis":{"orient":"left","values":[1,0.1,0.01,0.001,0.0001,0.00001,0.000001,0.0000001],"labelExpr":"datum.value > 0.5 ? '10⁰' : datum.value > 0.05 ? '10⁻¹' : datum.value > 0.005 ? '10⁻²' : datum.value > 0.0005 ? '10⁻³' : datum.value > 0.00005 ? '10⁻⁴' : datum.value > 0.000005 ? '10⁻⁵' : datum.value > 0.0000005 ? '10⁻⁶' : '10⁻⁷'","title":null}}}},
  {"data":{"name":"c_pts"},"transform":[{"fold":["Re"],"as":["s","val"]}],"mark":{"type":"point","shape":"circle","size":18,"filled":false,"color":"black","strokeWidth":1.1,"opacity":1},
   "encoding":{"x":{"field":"t","type":"quantitative","scale":{"type":"log","domain":[4.78e-6,3.16],"nice":false},"axis":{"orient":"bottom","values":[5e-6,6e-6,7e-6,8e-6,9e-6,2e-5,3e-5,4e-5,5e-5,6e-5,7e-5,8e-5,9e-5,2e-4,3e-4,4e-4,5e-4,6e-4,7e-4,8e-4,9e-4,0.002,0.003,0.004,0.005,0.006,0.007,0.008,0.009,0.02,0.03,0.04,0.05,0.06,0.07,0.08,0.09,0.2,0.3,0.4,0.5,0.6,0.7,0.8,0.9,2,3],"labels":false,"title":null,"tickSize":2.5,"tickWidth":0.8}},
   "y":{"field":"val","type":"quantitative","scale":{"type":"log","domain":[4.37e-8,3.24],"nice":false},"axis":{"orient":"left","values":[5e-8,6e-8,7e-8,8e-8,9e-8,2e-7,3e-7,4e-7,5e-7,6e-7,7e-7,8e-7,9e-7,2e-6,3e-6,4e-6,5e-6,6e-6,7e-6,8e-6,9e-6,2e-5,3e-5,4e-5,5e-5,6e-5,7e-5,8e-5,9e-5,2e-4,3e-4,4e-4,5e-4,6e-4,7e-4,8e-4,9e-4,0.002,0.003,0.004,0.005,0.006,0.007,0.008,0.009,0.02,0.03,0.04,0.05,0.06,0.07,0.08,0.09,0.2,0.3,0.4,0.5,0.6,0.7,0.8,0.9,2,3],"labels":false,"title":null,"tickSize":2.5,"tickWidth":0.8}}}},
  {"data":{"name":"c_pts"},"transform":[{"fold":["Ca"],"as":["s","val"]}],"mark":{"type":"point","shape":"circle","size":18,"filled":false,"color":"#0000ff","strokeWidth":1.1,"opacity":1},
   "encoding":{"x":{"field":"t","type":"quantitative","scale":{"type":"log","domain":[4.78e-6,3.16],"nice":false},"axis":null}}},
  {"data":{"name":"c_lines"},"transform":[{"filter":"datum.s == 'Ca'"}],"mark":{"type":"line","color":"#0000ff","strokeWidth":1.5},
   "encoding":{"x":{"field":"t","type":"quantitative","scale":{"type":"log","domain":[4.78e-6,3.16],"nice":false},"axis":null}}},
  {"data":{"name":"c_lines"},"transform":[{"filter":"datum.s == 'Re'"}],"mark":{"type":"line","color":"black","strokeWidth":1.5},
   "encoding":{"x":{"field":"t","type":"quantitative","scale":{"type":"log","domain":[4.78e-6,3.16],"nice":false},"axis":null}}},
  {"data":{"name":"c_lines"},"transform":[{"filter":"datum.s == 'We'"}],"mark":{"type":"line","color":"#ff0000","strokeWidth":1.5},
   "encoding":{"x":{"field":"t","type":"quantitative","scale":{"type":"log","domain":[4.78e-6,3.16],"nice":false},"axis":null}}},
  {"data":{"values":[{"t":1.47e-5,"val":0.216,"label":"(c)"},{"t":6.81e-5,"val":0.0461,"label":"Re"},{"t":0.916,"val":0.0109,"label":"R̃e"}]},"mark":{"type":"text","fontSize":21,"font":"DejaVu Sans","align":"center","baseline":"middle","color":"black"},
   "encoding":{"x":{"field":"t","type":"quantitative","scale":{"type":"log","domain":[4.78e-6,3.16],"nice":false},"axis":null},"text":{"field":"label"}}},
  {"data":{"values":[{"t":1.16e-4,"val":0.229,"label":"Ca"},{"t":1.97e-2,"val":0.173,"label":"C̃a"}]},"mark":{"type":"text","fontSize":22,"font":"DejaVu Sans","align":"center","baseline":"middle","color":"#0000ff"},
   "encoding":{"x":{"field":"t","type":"quantitative","scale":{"type":"log","domain":[4.78e-6,3.16],"nice":false},"axis":null},"text":{"field":"label"}}},
  {"data":{"values":[{"t":1.65e-3,"val":0.0012,"label":"We"},{"t":0.916,"val":4.37e-5,"label":"W̃e"}]},"mark":{"type":"text","fontSize":22,"font":"DejaVu Sans","align":"center","baseline":"middle","color":"#ff0000"},
   "encoding":{"x":{"field":"t","type":"quantitative","scale":{"type":"log","domain":[4.78e-6,3.16],"nice":false},"axis":null},"text":{"field":"label"}}}
 ],
 "resolve":{"axis":{"x":"independent","y":"independent"}}
},
{
 "width":425,"height":328,
 "layer":[
  {"data":{"values":[{"t":0.00205}]},"mark":{"type":"rule","color":"#c8c8c8","strokeWidth":1.5},
   "encoding":{"x":{"field":"t","type":"quantitative","scale":{"type":"log","domain":[6.11e-6,3.0],"nice":false},"axis":null}}},
  {"data":{"values":[{"val":0.816}]},"mark":{"type":"rule","color":"#7fbf7f","strokeDash":[7,4],"strokeWidth":1.5},
   "encoding":{"y":{"field":"val","type":"quantitative","scale":{"type":"log","domain":[1.47e-3,3.26],"nice":false},"axis":null}}},
  {"data":{"values":[{"val":0.283}]},"mark":{"type":"rule","color":"#ff8080","strokeDash":[1.5,3],"strokeWidth":1.5},
   "encoding":{"y":{"field":"val","type":"quantitative","scale":{"type":"log","domain":[1.47e-3,3.26],"nice":false},"axis":null}}},
  {"data":{"name":"d_lines"},"transform":[{"filter":"datum.s == 'Re'"}],"mark":{"type":"line","color":"black","strokeWidth":1.5},
   "encoding":{"x":{"field":"t","type":"quantitative","scale":{"type":"log","domain":[6.11e-6,3.0],"nice":false},"axis":{"orient":"bottom","values":[1e-5,1e-4,0.001,0.01,0.1,1],"labelExpr":"datum.value > 0.5 ? '10⁰' : datum.value > 0.05 ? '10⁻¹' : datum.value > 0.005 ? '10⁻²' : datum.value > 0.0005 ? '10⁻³' : datum.value > 0.00005 ? '10⁻⁴' : '10⁻⁵'","title":"t (s)","titlePadding":4}},
   "y":{"field":"val","type":"quantitative","scale":{"type":"log","domain":[1.47e-3,3.26],"nice":false},"axis":{"orient":"left","values":[0.01,0.1,1],"labelExpr":"datum.value > 0.5 ? '10⁰' : datum.value > 0.05 ? '10⁻¹' : '10⁻²'","title":null}}}},
  {"data":{"name":"d_lines"},"transform":[{"filter":"datum.s == 'We'"}],"mark":{"type":"line","color":"#ff0000","strokeWidth":1.5},
   "encoding":{"x":{"field":"t","type":"quantitative","scale":{"type":"log","domain":[6.11e-6,3.0],"nice":false},"axis":{"orient":"bottom","values":[7e-6,8e-6,9e-6,2e-5,3e-5,4e-5,5e-5,6e-5,7e-5,8e-5,9e-5,2e-4,3e-4,4e-4,5e-4,6e-4,7e-4,8e-4,9e-4,0.002,0.003,0.004,0.005,0.006,0.007,0.008,0.009,0.02,0.03,0.04,0.05,0.06,0.07,0.08,0.09,0.2,0.3,0.4,0.5,0.6,0.7,0.8,0.9,2],"labels":false,"title":null,"tickSize":2.5,"tickWidth":0.8}},
   "y":{"field":"val","type":"quantitative","scale":{"type":"log","domain":[1.47e-3,3.26],"nice":false},"axis":{"orient":"left","values":[0.002,0.003,0.004,0.005,0.006,0.007,0.008,0.009,0.02,0.03,0.04,0.05,0.06,0.07,0.08,0.09,0.2,0.3,0.4,0.5,0.6,0.7,0.8,0.9,2,3],"labels":false,"title":null,"tickSize":2.5,"tickWidth":0.8}}}},
  {"data":{"name":"d_lines"},"transform":[{"filter":"datum.s == 'Spwe'"}],"mark":{"type":"line","color":"#bf00bf","strokeWidth":1.5},
   "encoding":{"x":{"field":"t","type":"quantitative","scale":{"type":"log","domain":[6.11e-6,3.0],"nice":false},"axis":null},
   "y":{"field":"val","type":"quantitative","scale":{"type":"log","domain":[1.47e-3,3.26],"nice":false},"axis":null}}},
  {"data":{"name":"d_lines"},"transform":[{"filter":"datum.s == 'Spca'"}],"mark":{"type":"line","color":"#008000","strokeWidth":1.5},
   "encoding":{"x":{"field":"t","type":"quantitative","scale":{"type":"log","domain":[6.11e-6,3.0],"nice":false},"axis":null},
   "y":{"field":"val","type":"quantitative","scale":{"type":"log","domain":[1.47e-3,3.26],"nice":false},"axis":null}}},
  {"data":{"name":"d_lines"},"transform":[{"filter":"datum.s == 'Sp'"}],"mark":{"type":"line","color":"#808080","strokeWidth":1.5},
   "encoding":{"x":{"field":"t","type":"quantitative","scale":{"type":"log","domain":[6.11e-6,3.0],"nice":false},"axis":null},
   "y":{"field":"val","type":"quantitative","scale":{"type":"log","domain":[1.47e-3,3.26],"nice":false},"axis":null}}},
  {"data":{"name":"d_lines"},"transform":[{"filter":"datum.s == 'Ca'"}],"mark":{"type":"line","color":"#0000ff","strokeWidth":1.5},
   "encoding":{"x":{"field":"t","type":"quantitative","scale":{"type":"log","domain":[6.11e-6,3.0],"nice":false},"axis":null},
   "y":{"field":"val","type":"quantitative","scale":{"type":"log","domain":[1.47e-3,3.26],"nice":false},"axis":null}}},
  {"data":{"values":[{"t":1.2e-5,"val":1.0,"label":"(d)"}]},"mark":{"type":"text","fontSize":21,"font":"DejaVu Sans","align":"center","baseline":"middle","color":"black"},
   "encoding":{"x":{"field":"t","type":"quantitative","scale":{"type":"log","domain":[6.11e-6,3.0],"nice":false},"axis":null},
   "y":{"field":"val","type":"quantitative","scale":{"type":"log","domain":[1.47e-3,3.26],"nice":false},"axis":null},"text":{"field":"label"}}},
  {"data":{"values":[{"t":1.67,"val":0.063,"label":"ℜ𝔢"}]},"mark":{"type":"text","fontSize":20,"align":"center","baseline":"middle","color":"black"},
   "encoding":{"x":{"field":"t","type":"quantitative","scale":{"type":"log","domain":[6.11e-6,3.0],"nice":false},"axis":null},
   "y":{"field":"val","type":"quantitative","scale":{"type":"log","domain":[1.47e-3,3.26],"nice":false},"axis":null},"text":{"field":"label"}}},
  {"data":{"values":[{"t":1.67,"val":0.0184,"label":"𝔚𝔢"}]},"mark":{"type":"text","fontSize":20,"align":"center","baseline":"middle","color":"#ff3030"},
   "encoding":{"x":{"field":"t","type":"quantitative","scale":{"type":"log","domain":[6.11e-6,3.0],"nice":false},"axis":null},
   "y":{"field":"val","type":"quantitative","scale":{"type":"log","domain":[1.47e-3,3.26],"nice":false},"axis":null},"text":{"field":"label"}}},
  {"data":{"values":[{"t":4.35,"val":0.302,"label":"δ"}]},"mark":{"type":"text","fontSize":21,"font":"Liberation Serif","fontStyle":"italic","align":"center","baseline":"middle","color":"#ff4040"},
   "encoding":{"x":{"field":"t","type":"quantitative","scale":{"type":"log","domain":[6.11e-6,3.0],"nice":false},"axis":null},
   "y":{"field":"val","type":"quantitative","scale":{"type":"log","domain":[1.47e-3,3.26],"nice":false},"axis":null},"text":{"field":"label"}}},
  {"data":{"values":[{"t":5.86,"val":0.265,"label":"ic"}]},"mark":{"type":"text","fontSize":13,"font":"Liberation Serif","fontStyle":"italic","align":"center","baseline":"middle","color":"#ff4040"},
   "encoding":{"x":{"field":"t","type":"quantitative","scale":{"type":"log","domain":[6.11e-6,3.0],"nice":false},"axis":null},
   "y":{"field":"val","type":"quantitative","scale":{"type":"log","domain":[1.47e-3,3.26],"nice":false},"axis":null},"text":{"field":"label"}}},
  {"data":{"values":[{"t":1.76,"val":0.00201,"label":"ℭ𝔞"}]},"mark":{"type":"text","fontSize":20,"align":"center","baseline":"middle","color":"#2060c0"},
   "encoding":{"x":{"field":"t","type":"quantitative","scale":{"type":"log","domain":[6.11e-6,3.0],"nice":false},"axis":null},
   "y":{"field":"val","type":"quantitative","scale":{"type":"log","domain":[1.47e-3,3.26],"nice":false},"axis":null},"text":{"field":"label"}}},
  {"data":{"values":[{"t":1.95,"val":2.1,"label":"Sp"}]},"mark":{"type":"text","fontSize":22,"font":"Liberation Serif","align":"center","baseline":"middle","color":"#8c8c8c"},
   "encoding":{"x":{"field":"t","type":"quantitative","scale":{"type":"log","domain":[6.11e-6,3.0],"nice":false},"axis":null},
   "y":{"field":"val","type":"quantitative","scale":{"type":"log","domain":[1.47e-3,3.26],"nice":false},"axis":null},"text":{"field":"label"}}},
  {"data":{"values":[{"t":1.23,"val":1.28,"label":"(Sp⁹ℭ𝔞)¹⁄¹⁰"}]},"mark":{"type":"text","fontSize":12,"font":"Liberation Serif","align":"center","baseline":"middle","color":"#3c9a5c"},
   "encoding":{"x":{"field":"t","type":"quantitative","scale":{"type":"log","domain":[6.11e-6,3.0],"nice":false},"axis":null},
   "y":{"field":"val","type":"quantitative","scale":{"type":"log","domain":[1.47e-3,3.26],"nice":false},"axis":null},"text":{"field":"label"}}},
  {"data":{"values":[{"t":4.09,"val":0.835,"label":"δ"}]},"mark":{"type":"text","fontSize":21,"font":"Liberation Serif","fontStyle":"italic","align":"center","baseline":"middle","color":"#4aa36a"},
   "encoding":{"x":{"field":"t","type":"quantitative","scale":{"type":"log","domain":[6.11e-6,3.0],"nice":false},"axis":null},
   "y":{"field":"val","type":"quantitative","scale":{"type":"log","domain":[1.47e-3,3.26],"nice":false},"axis":null},"text":{"field":"label"}}},
  {"data":{"values":[{"t":6.37,"val":0.773,"label":"Tan"}]},"mark":{"type":"text","fontSize":13,"font":"Liberation Serif","fontStyle":"italic","align":"center","baseline":"middle","color":"#4aa36a"},
   "encoding":{"x":{"field":"t","type":"quantitative","scale":{"type":"log","domain":[6.11e-6,3.0],"nice":false},"axis":null},
   "y":{"field":"val","type":"quantitative","scale":{"type":"log","domain":[1.47e-3,3.26],"nice":false},"axis":null},"text":{"field":"label"}}},
  {"data":{"values":[{"t":1.0,"val":0.621,"label":"(Sp𝔚𝔢³)¹⁄⁴"}]},"mark":{"type":"text","fontSize":12,"font":"Liberation Serif","align":"center","baseline":"middle","color":"#b050b0"},
   "encoding":{"x":{"field":"t","type":"quantitative","scale":{"type":"log","domain":[6.11e-6,3.0],"nice":false},"axis":null},
   "y":{"field":"val","type":"quantitative","scale":{"type":"log","domain":[1.47e-3,3.26],"nice":false},"axis":null},"text":{"field":"label"}}},
  {"data":{"values":[{"t":2.09e-3,"val":0.00235,"label":"τₒ"}]},"mark":{"type":"text","fontSize":30,"font":"Liberation Serif","fontStyle":"italic","align":"center","baseline":"middle","color":"black"},
   "encoding":{"x":{"field":"t","type":"quantitative","scale":{"type":"log","domain":[6.11e-6,3.0],"nice":false},"axis":null},
   "y":{"field":"val","type":"quantitative","scale":{"type":"log","domain":[1.47e-3,3.26],"nice":false},"axis":null},"text":{"field":"label"}}}
 ],
 "resolve":{"axis":{"x":"independent","y":"independent"}}
}
]
}
